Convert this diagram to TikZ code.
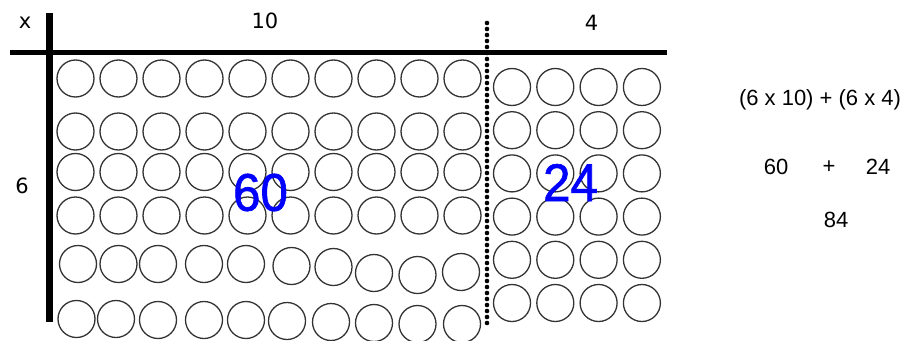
\documentclass[tikz,border=0pt]{standalone}
\usepackage{fontspec}
\setmainfont{Liberation Sans}
\newfontfamily\labelfont{DejaVu Sans}
\newfontfamily\handfont[FakeBold=1.2,FakeStretch=0.93]{Liberation Sans}

\begin{document}
\begin{tikzpicture}[x=1pt,y=-1pt,
    bead/.style={circle,draw=black!80,line width=1.3pt,minimum size=37pt,inner sep=0pt},
    bar/.style={line width=5.5pt},
    split/.style={line width=4.6pt,line cap=round,dash pattern=on 0pt off 6pt},
    lbl/.style={font=\labelfont\fontsize{21}{24}\selectfont},
    sumtext/.style={font=\fontsize{22}{26}\selectfont},
    part/.style={font=\handfont\fontsize{53}{58}\selectfont,text=blue}]
    \useasboundingbox (0,0) rectangle (909,340);
    % tens block, regular rows
    \foreach \y [count=\r] in {78.5,131.5,172,215.5}
      \foreach \c in {1,...,10}
        \node[bead] (l-\r-\c) at ({75.5+43*(\c-1)},\y) {};
    % tens block, last two rows
    \foreach \x/\y [count=\c] in {78/264,118.5/264,158/264,204/264,246/264,291.5/266,333.5/267,374/273,417.5/275,461/272}
      \node[bead] (l-5-\c) at (\x,\y) {};
    \foreach \x/\y [count=\c] in {76.5/319,116/319,158/320,204/320,246/320,287/321,331/322,374/323,417.5/324,462/324}
      \node[bead] (l-6-\c) at (\x,\y) {};
    % ones block
    \foreach \r in {1,...,6}
      \foreach \c in {1,...,4}
        \node[bead] (r-\r-\c) at ({512+43.3*(\c-1)},{87+43.2*(\r-1)}) {};
    % axes
    \coordinate (top-l) at (10,52.5);
    \coordinate (top-r) at (667,52.5);
    \coordinate (side-t) at (49.5,13);
    \coordinate (side-b) at (49.5,322);
    \coordinate (cut-t) at (487,23);
    \coordinate (cut-b) at (487,325);
    \draw[bar] (top-l) -- (top-r);
    \draw[bar,line width=6.5pt] (side-t) -- (side-b);
    \draw[split] (cut-t) -- (cut-b);
    % labels
    \node[lbl] (times) at (25,23) {x};
    \node[lbl] (tens) at (265,21) {10};
    \node[lbl] (ones) at (591.5,22.5) {4};
    \node[lbl] (six) at (22,186) {6};
    \node[part] (p60) at (260.5,192.5) {60};
    \node[part] (p24) at (570.5,182.5) {24};
    % working on the right
    \node[sumtext] (expr) at (820,100) {(6 x 10) + (6 x 4)};
    \node[sumtext] (s60) at (776,166.5) {60};
    \node[sumtext] (plus) at (829,167) {+};
    \node[sumtext] (s24) at (878,166.5) {24};
    \node[sumtext] (total) at (836,220) {84};
\end{tikzpicture}
\end{document}
